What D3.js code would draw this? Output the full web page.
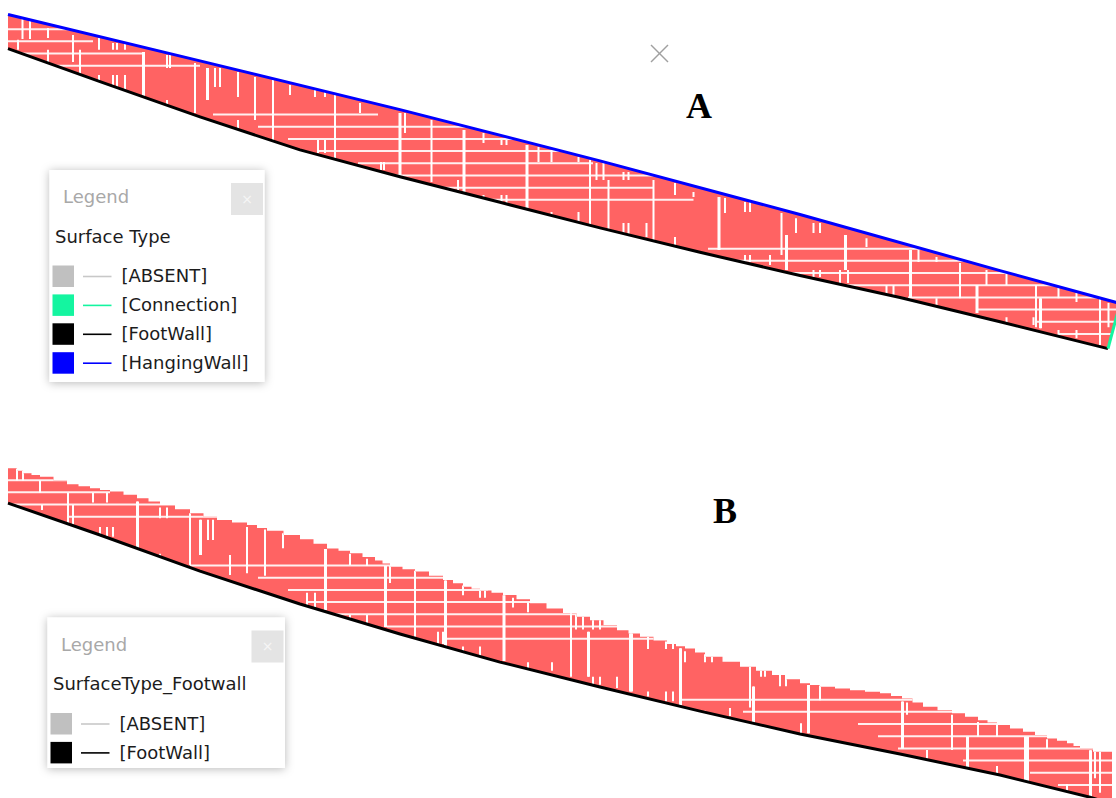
<!DOCTYPE html>
<html>
<head>
<meta charset="utf-8">
<script src="https://cdn.jsdelivr.net/npm/d3@7"></script>
<style>
  html, body { margin: 0; padding: 0; background: #fff; }
  svg { display: block; }
</style>
</head>
<body>
<svg id="chart" width="1116" height="798"></svg>
<script>
// ---------------------------------------------------------------
// Block model cross-sections. Distances along section in metres,
// elevations in metres. Cell layers are 5 m thick.
// ---------------------------------------------------------------

// Section A: modelled surfaces
const hangingWallA = [[0,441],[384,422],[784,402],[1184,381],[1584,359],[1984,336],[2224,322.5]];
const footWallA = [[0,427],[184,413.5],[384,399],[584,385.5],[784,374.5],[984,364],[1184,353.5],[1384,343.5],[1584,334],[1784,325],[1984,315],[2200,304]];
const connectionA = [[2200,304],[2224,322.5]];

// Section A: horizontal cell boundaries [elevation, from, to]
const seamsA = [
  [435,0,150],[430,0,170],[425,0,270],[420,78,384],
  [400,410,740],[395,500,920],[390,560,1040],[385,620,1164],[380,700,1170],
  [375,740,1291],[370,830,1291],[365,940,1371],
  [345,1400,1830],[340,1440,1930],[335,1550,2232],[330,1678,2232],
  [325,1800,2232],[320,1938,2232],[315,2056,2232],[310,2100,2232]
];

// Section A: vertical cell boundaries [distance, top elevation, bottom elevation]
const breaksA = [
  [29,440,431],[44,439,431],[80,435.5,431.4],[20,430.6,426.5],[80,426.5,421.5],[130,432.6,421.5],[144,426.5,413.3],
  [182,431.4,426.5],[182,416.2,412.1],[210,429.3,426.5],[218,429.3,426.5],[234,429.3,426.5],
  [210,416.2,410],[218,416.2,410],[234,416.2,410],
  [270,425.6,406.8],[272,425.6,406.8],
  [318,424.4,419.1],[324,424.4,419.1],[318,405.9,403.1],
  [374,421.1,400.6],[398,419.1,405.9],[400,419.1,405.9],
  [414,419.1,411.3],[424,419.1,411.3],
  [460,417.4,407.2],[460,397.7,392.8],[494,415.4,397.7],[530,414.2,389.5],[564,412.1,408],
  [614,410.9,407.2],[634,410.9,407.2],[620,389.5,384.2],[634,389.5,384.2],
  [654,408,380],[704,404.7,400.6],
  [746,380.5,377.2],[752,380.5,377.2],
  [783,400.6,374.4],[785,400.6,374.4],[794,400.6,392.4],[847,397.7,372.3],[900,373.1,369],
  [911,393.6,367.8],[913,393.6,367.8],[951,392.4,388.3],[951,367,364.9],
  [987,389.5,387.5],[997,389.5,387.5],[987,367,363.7],[997,367,363.7],
  [1037,387.5,360.8],[1039,387.5,360.8],[1061,386.7,380.5],[1087,385.4,380.5],[1087,360,356.7],
  [1141,382.6,380.5],[1141,360,355.5],[1164,381.4,349.8],[1177,380.1,373.1],[1191,380.1,373.1],[1201,373.1,352.6],
  [1231,376.4,373.1],[1241,376.4,373.1],[1231,355.5,349.8],[1241,355.5,349.8],[1277,355.5,349.8],
  [1291,373.1,347.3],[1334,371.9,367],[1334,349.8,345.7],[1371,368.2,366.2],
  [1421,366.2,344.4],[1423,366.2,344.4],[1434,365.8,359.6],
  [1474,364.1,360],[1484,364.1,360],[1474,342.4,339.5],[1484,342.4,339.5],[1524,342.4,338.3],
  [1547,359.6,342.4],[1556,350.6,336.2],[1558,350.6,336.2],[1576,357.5,351.4],
  [1611,355.5,351.4],[1624,355.5,351.4],[1611,336.2,333.4],[1624,336.2,333.4],
  [1664,336.2,330.9],[1674,350.6,336.2],[1676,350.6,336.2],[1680,336.2,330.9],[1717,349.3,345.7],
  [1757,330.1,325.1],[1771,330.1,325.1],[1804,344.4,324.7],[1806,344.4,324.7],[1821,344.4,339.5],
  [1857,341.6,339.5],[1857,324.7,321],[1904,339.1,324.7],[1937,330.1,318.6],[1939,330.1,318.6],
  [1957,336.2,330.1],[1997,335,330.1],[1997,316.9,314.5],[2051,316.9,313.7],[2056,330.1,312.8],
  [2064,324.7,312.4],[2066,324.7,312.4],[2101,329.2,324.7],[2101,311.6,308.7],[2137,326.8,323.1],[2137,311.6,308.3],
  [2184,324.7,305.5],[2201,322.7,312.8]
];

// Section B: tops of the cell columns (stepped) and the footwall surface
const cellTopsB = [
  [0,439.9],[18,438.8],[30,437.8],[47,437.1],[64,436.4],[91,434.9],[118,433.3],[141,432.5],
  [164,431.7],[184,431.0],[204,430.3],[231,429.0],[258,427.6],[281,426.2],[304,424.8],[334,423.1],
  [364,421.4],[391,420.0],[418,418.7],[448,417.6],[478,416.6],[498,415.4],[518,414.2],[551,412.5],
  [584,410.8],[611,408.9],[638,407.0],[661,406.0],[684,405.0],[709,403.5],[734,402.0],[749,400.8],
  [764,399.5],[789,398.5],[814,397.5],[842,395.8],[870,394.1],[890,392.7],[910,391.3],[927,390.5],
  [944,389.7],[967,388.8],[990,387.9],[1017,386.2],[1044,384.5],[1077,382.4],[1110,380.4],[1137,379.0],
  [1164,377.6],[1191,375.5],[1218,373.5],[1241,372.1],[1264,370.8],[1291,369.3],[1318,367.8],[1336,366.9],
  [1354,366.0],[1374,364.3],[1394,362.6],[1429,360.5],[1464,358.5],[1496,356.8],[1528,355.1],[1556,353.4],
  [1584,351.7],[1604,351.0],[1624,350.3],[1654,349.6],[1684,348.9],[1714,348.2],[1744,347.6],[1766,346.5],
  [1788,345.5],[1809,343.8],[1830,342.1],[1859,340.7],[1888,339.4],[1914,338.0],[1940,336.6],[1959,335.6],
  [1978,334.6],[2004,333.2],[2030,331.8],[2054,330.4],[2078,329.1],[2098,328.1],[2118,327.1],[2131,326.0],
  [2144,325.0],[2170,323.6],[2208,323.6]
];
const footWallB = [[0,425.6],[184,412.5],[384,397.7],[584,384.2],[784,371.9],[984,360.4],[1184,350.2],[1384,340.3],[1584,330.9],[1784,322.7],[1984,314.1],[2164,305],[2208,302.2]];
const eastLimitB = [[2208,323.6],[2208,302.2]];

const seamsB = [
  [435,0,164],[430,0,204],[425,0,384],[420,118,584],
  [400,364,766],[395,500,876],[390,560,960],[385,600,1104],[380,644,1224],[375,758,1344],[370,870,1344],
  [345,1344,1830],[340,1470,1920],[335,1700,2060],[330,1740,2160],[325,1780,2232],[320,1910,2232],
  [315,2044,2232],[310,2100,2232]
];

const breaksB = [
  [18,439.8,434.8],[30,439.8,434.8],[64,434.8,429.8],[120,429.8,413.8],[130,424.8,416.8],[68,424.8,422.8],
  [170,429.8,425.8],[198,429.8,425.8],[184,415.8,411.8],[198,415.8,411.8],[210,415.8,411.8],
  [258,426.2,404.3],[260,426.2,404.3],[304,423.8,419.4],[318,423.8,419.4],[304,404.8,401.8],
  [364,421.4,400.2],[384,418.8,404.3],[386,418.8,404.3],[400,418.8,410.5],[410,418.8,410.5],
  [444,404.3,396.1],[478,415.8,396.8],[514,414.8,395.8],[550,413.2,407.1],
  [598,388.8,382.8],[614,388.8,382.8],[634,406.8,381.8],[636,406.8,381.8],
  [684,404.8,400.2],[718,402.8,399.8],[684,379.8,376.4],[718,379.8,376.4],
  [754,399.8,374.8],[756,399.8,374.8],[764,399.8,392.8],[814,397.8,370.8],
  [860,372.8,367.8],[870,372.8,367.8],[874,393.8,365.8],[876,393.8,365.8],
  [910,391.8,387.8],[910,366.8,364.8],[944,389.8,386.8],[954,389.8,386.8],[944,366.8,362.8],
  [991,387.8,360.8],[993,387.8,360.8],[1010,386.8,382.8],[1040,384.8,380.8],[1040,360.3,356.8],
  [1088,360.3,356.8],[1126,380.8,354.4],[1136,379.8,373.8],[1150,379.8,373.8],
  [1160,372.8,354.4],[1162,372.8,354.4],[1170,377.8,373.8],[1184,377.8,373.8],
  [1170,354.4,351.1],[1184,354.4,351.1],[1218,354.4,349.8],
  [1244,372.8,348.3],[1246,372.8,348.3],[1248,372.8,348.3],
  [1280,370.8,365.8],[1280,348.3,346.3],[1316,368.8,365.8],[1330,368.8,365.8],
  [1316,348.3,344.3],[1330,348.3,344.3],[1344,366.1,342.8],[1346,366.1,342.8],
  [1354,364.8,360.3],[1394,363.6,360.3],[1394,340.4,337.8],[1408,363.6,360.3],[1444,341.6,338.3],
  [1484,359.3,341.8],[1490,350.4,335.3],[1492,350.4,335.3],[1506,358,354.4],[1514,358,354.4],
  [1544,356,350.5],[1556,356,350.5],[1600,351,331.2],[1602,351,331.2],[1586,335.3,331.2],[1624,350.8,344.8],
  [1788,344.2,325],[1790,344.2,325],[1798,343.8,338.8],[1888,338.8,324.4],
  [1918,329.8,313.4],[1920,329.8,313.4],[1940,335.8,329.8],[1838,324.4,320.8],
  [1978,334.8,329.8],[1978,317.8,314.8],[2034,329.8,310.8],[2036,329.8,310.8],[2040,329.8,310.8],
  [2078,328.8,324.8],[2118,310.4,307.2],[2164,324.3,305.2],[2166,324.3,305.2],
  [2174,323.8,312.8],[2184,323.8,306.8]
];

// Legend contents
const surfaceTypesA = ["[ABSENT]", "[Connection]", "[FootWall]", "[HangingWall]"];
const surfaceTypesB = ["[ABSENT]", "[FootWall]"];
const surfaceColor = d3.scaleOrdinal()
  .domain(["[ABSENT]", "[Connection]", "[FootWall]", "[HangingWall]"])
  .range(["#c0c0c0", "#14f5a0", "#000000", "#0000ff"]);

// ---------------------------------------------------------------
const svg = d3.select("#chart");
const defs = svg.append("defs");
const FONT = "'DejaVu Sans', sans-serif";

const x = d3.scaleLinear().domain([0, 2216]).range([8, 1116]);
const zA = d3.scaleLinear().domain([400, 300]).range([114.5, 358.4]);
const zB = d3.scaleLinear().domain([400, 300]).range([565.5, 809.4]);

const shadow = defs.append("filter").attr("id", "boxShadow")
  .attr("x", "-20%").attr("y", "-20%").attr("width", "140%").attr("height", "140%");
shadow.append("feDropShadow").attr("dx", 0).attr("dy", 1).attr("stdDeviation", 5)
  .attr("flood-color", "#000").attr("flood-opacity", 0.28);

function drawSection(id, z, top, topCurve, eastEdge, bottom, seams, breaks) {
  const g = svg.append("g");
  const px = d => x(d[0]), py = d => z(d[1]);
  const topD = d3.line().x(px).y(py).curve(topCurve)(top);
  const restD = d3.line().x(px).y(py)([...eastEdge, ...bottom.slice().reverse()]).replace(/^M/, "L");
  const bandD = topD + restD + "Z";

  defs.append("clipPath").attr("id", id).append("path").attr("d", bandD);
  g.append("path").attr("d", bandD).attr("fill", "#ff6363");

  const cells = g.append("g").attr("clip-path", `url(#${id})`);
  cells.selectAll(null).data(seams).join("line")
    .attr("x1", d => x(d[1])).attr("x2", d => x(d[2]))
    .attr("y1", d => z(d[0])).attr("y2", d => z(d[0]))
    .attr("stroke", "#fff").attr("stroke-opacity", 0.9).attr("stroke-width", 2);
  cells.selectAll(null).data(breaks).join("line")
    .attr("x1", d => x(d[0])).attr("x2", d => x(d[0]))
    .attr("y1", d => z(d[1])).attr("y2", d => z(d[2]))
    .attr("stroke", "#fff").attr("stroke-width", 2);
  return g;
}

function drawSurface(g, z, pts, color) {
  g.append("path")
    .attr("d", d3.line().x(d => x(d[0])).y(d => z(d[1]))(pts))
    .attr("fill", "none").attr("stroke", surfaceColor(color))
    .attr("stroke-width", 3).attr("stroke-linejoin", "round");
}

// Section A
const gA = drawSection("clipA", zA, hangingWallA, d3.curveLinear, connectionA.slice().reverse(), footWallA, seamsA, breaksA);
drawSurface(gA, zA, footWallA, "[FootWall]");
drawSurface(gA, zA, connectionA, "[Connection]");
drawSurface(gA, zA, hangingWallA, "[HangingWall]");

// Section B
const gB = drawSection("clipB", zB, cellTopsB, d3.curveStepAfter, eastLimitB, footWallB, seamsB, breaksB);
drawSurface(gB, zB, footWallB, "[FootWall]");

// Section labels
svg.append("text").attr("x", 686).attr("y", 118).text("A")
  .attr("font-family", "'Liberation Serif', 'Times New Roman', serif")
  .attr("font-weight", "bold").attr("font-size", 36).attr("fill", "#000");
svg.append("text").attr("x", 713).attr("y", 523).text("B")
  .attr("font-family", "'Liberation Serif', 'Times New Roman', serif")
  .attr("font-weight", "bold").attr("font-size", 36).attr("fill", "#000");

// Small cross marker
const cross = svg.append("g").attr("stroke", "#a0a0a0").attr("stroke-width", 1.4);
cross.append("line").attr("x1", 651).attr("y1", 45).attr("x2", 668).attr("y2", 62);
cross.append("line").attr("x1", 668).attr("y1", 45).attr("x2", 651).attr("y2", 62);

// Legend panels
function drawLegend(box, heading, items) {
  const g = svg.append("g");
  g.append("rect").attr("x", box.x).attr("y", box.y).attr("width", box.w).attr("height", box.h)
    .attr("fill", "#fff").attr("filter", "url(#boxShadow)");
  g.append("text").attr("x", box.x + 13.5).attr("y", box.y + 33).text("Legend")
    .attr("font-family", FONT).attr("font-size", 18).attr("fill", "#a8a8a8");
  const bx = box.x + box.w - 33.5, by = box.y + 13;
  g.append("rect").attr("x", bx).attr("y", by).attr("width", 32).attr("height", 32).attr("fill", "#e4e4e4");
  g.append("text").attr("x", bx + 16).attr("y", by + 20.5).attr("text-anchor", "middle").text("×")
    .attr("font-family", FONT).attr("font-size", 14).attr("fill", "#f6f6f6");
  g.append("text").attr("x", box.x + 5.5).attr("y", box.y + 72.5).text(heading)
    .attr("font-family", FONT).attr("font-size", 18).attr("fill", "#1c1c1c");

  const rows = g.selectAll(null).data(items).join("g")
    .attr("transform", (d, i) => `translate(${box.x + 3}, ${box.y + 95.5 + i * 28.9})`);
  rows.append("rect").attr("x", 0).attr("y", 0).attr("width", 21.5).attr("height", 21.5)
    .attr("fill", d => surfaceColor(d));
  rows.append("line").attr("x1", 30.5).attr("x2", 59).attr("y1", 11).attr("y2", 11)
    .attr("stroke", d => d === "[ABSENT]" ? "#c8c8c8" : surfaceColor(d)).attr("stroke-width", 1.6);
  rows.append("text").attr("x", 69).attr("y", 16.8).text(d => d)
    .attr("font-family", FONT).attr("font-size", 18).attr("fill", "#1c1c1c");
}

drawLegend({x: 49.5, y: 170, w: 215, h: 212}, "Surface Type", surfaceTypesA);
drawLegend({x: 47.5, y: 617.5, w: 237.5, h: 150.5}, "SurfaceType_Footwall", surfaceTypesB);
</script>
</body>
</html>
